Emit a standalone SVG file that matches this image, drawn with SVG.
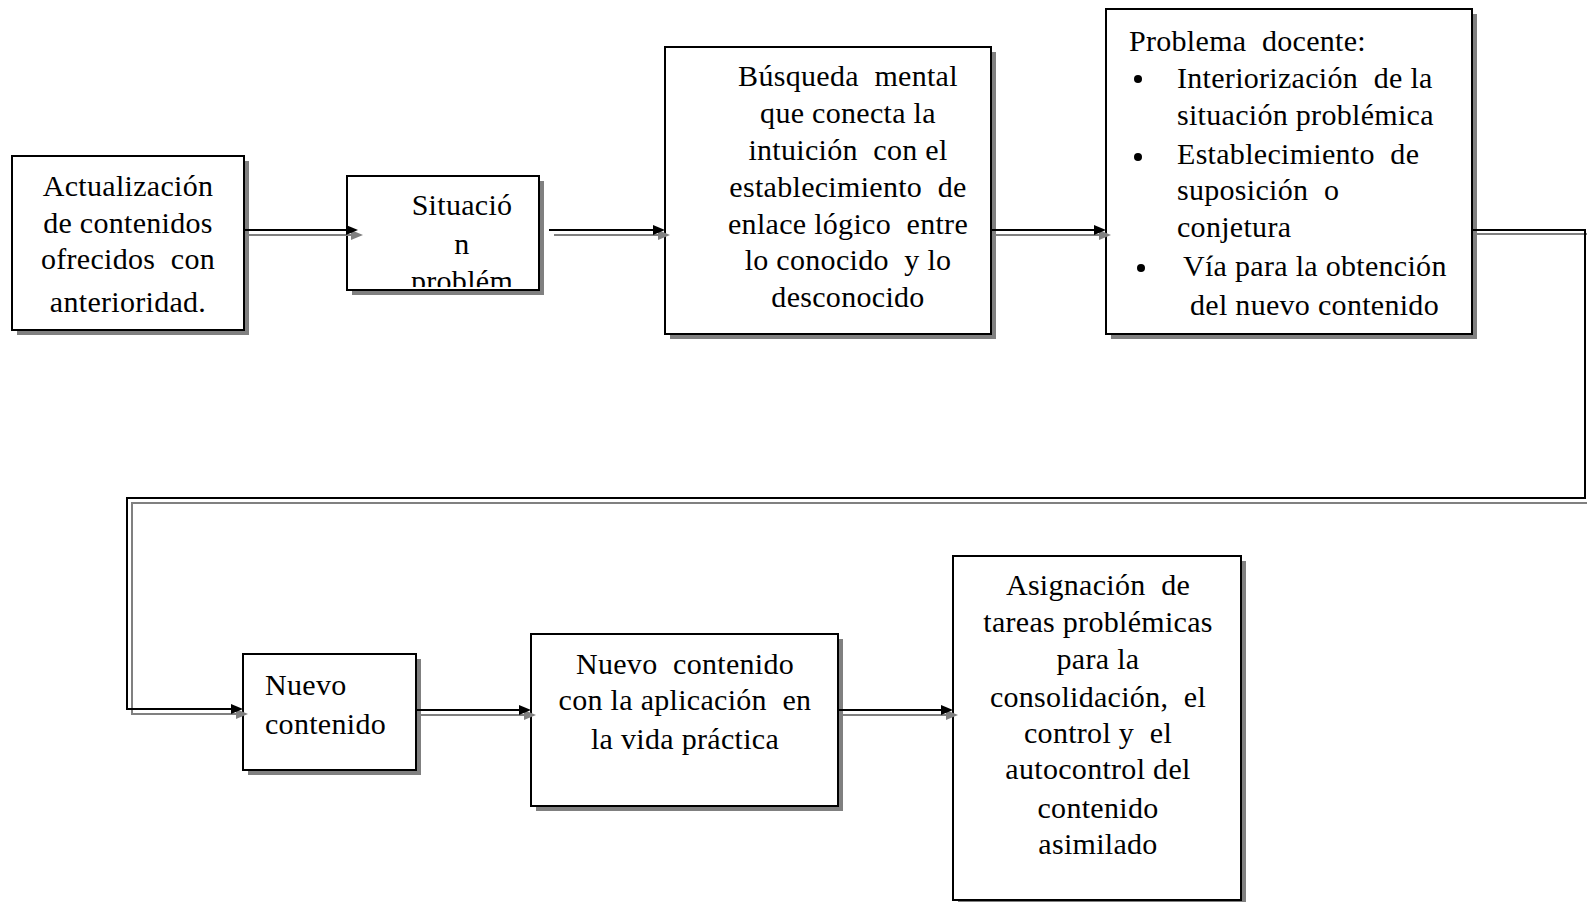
<svg xmlns="http://www.w3.org/2000/svg" width="1587" height="902" viewBox="0 0 1587 902">
<style>
  .box { fill: #ffffff; stroke: #000000; stroke-width: 2; }
  .shadow { fill: #808080; stroke: none; }
  .t { font-family: "Liberation Serif", "Times New Roman", serif; font-size: 30px; letter-spacing: 0.3px; white-space: pre; fill: #000000; }
  .c { text-anchor: middle; }
  .ln { fill: none; stroke: #000000; stroke-width: 2; }
  .lg { fill: none; stroke: #808080; stroke-width: 2; }
</style>
<defs>
  <marker id="ab" markerUnits="userSpaceOnUse" markerWidth="13" markerHeight="11" refX="1" refY="5" orient="auto">
    <path d="M0,0 L12,5 L0,10 Z" fill="#000000"/>
  </marker>
  <marker id="ag" markerUnits="userSpaceOnUse" markerWidth="13" markerHeight="11" refX="1" refY="5" orient="auto">
    <path d="M0,0 L12,5 L0,10 Z" fill="#808080"/>
  </marker>
  <clipPath id="clip2"><rect x="348" y="177" width="190" height="110"/></clipPath>
</defs>

<g id="n1">
  <rect class="shadow" x="17" y="161" width="232" height="174"/>
  <rect class="box" x="12" y="156" width="232" height="174"/>
  <text class="t c" x="128" y="196">Actualización</text>
  <text class="t c" x="128" y="233">de contenidos</text>
  <text class="t c" x="128" y="269">ofrecidos  con</text>
  <text class="t c" x="128" y="312">anterioridad.</text>
</g>

<g id="n2">
  <rect class="shadow" x="352" y="181" width="192" height="114"/>
  <rect class="box" x="347" y="176" width="192" height="114"/>
  <g clip-path="url(#clip2)">
    <text class="t c" x="462" y="215">Situació</text>
    <text class="t c" x="462" y="254">n</text>
    <text class="t c" x="462" y="291">problém</text>
  </g>
</g>

<g id="n3">
  <rect class="shadow" x="670" y="52" width="326" height="287"/>
  <rect class="box" x="665" y="47" width="326" height="287"/>
  <text class="t c" x="848" y="86">Búsqueda  mental</text>
  <text class="t c" x="848" y="123">que conecta la</text>
  <text class="t c" x="848" y="160">intuición  con el</text>
  <text class="t c" x="848" y="197">establecimiento  de</text>
  <text class="t c" x="848" y="234">enlace lógico  entre</text>
  <text class="t c" x="848" y="270">lo conocido  y lo</text>
  <text class="t c" x="848" y="307">desconocido</text>
</g>

<g id="n4">
  <rect class="shadow" x="1111" y="14" width="366" height="325"/>
  <rect class="box" x="1106" y="9" width="366" height="325"/>
  <text class="t" x="1129" y="51">Problema  docente:</text>
  <circle cx="1138" cy="79" r="4"/>
  <text class="t" x="1177" y="88">Interiorización  de la</text>
  <text class="t" x="1177" y="125">situación problémica</text>
  <circle cx="1138" cy="157" r="4"/>
  <text class="t" x="1177" y="164">Establecimiento  de</text>
  <text class="t" x="1177" y="200">suposición  o</text>
  <text class="t" x="1177" y="237">conjetura</text>
  <circle cx="1141" cy="268" r="4"/>
  <text class="t" x="1183" y="276">Vía para la obtención</text>
  <text class="t" x="1190" y="315">del nuevo contenido</text>
</g>

<g id="n5">
  <rect class="shadow" x="248" y="659" width="173" height="116"/>
  <rect class="box" x="243" y="654" width="173" height="116"/>
  <text class="t" x="265" y="695">Nuevo</text>
  <text class="t" x="265" y="734">contenido</text>
</g>

<g id="n6">
  <rect class="shadow" x="536" y="639" width="307" height="172"/>
  <rect class="box" x="531" y="634" width="307" height="172"/>
  <text class="t c" x="685" y="674">Nuevo  contenido</text>
  <text class="t c" x="685" y="710">con la aplicación  en</text>
  <text class="t c" x="685" y="749">la vida práctica</text>
</g>

<g id="n7">
  <rect class="shadow" x="958" y="561" width="288" height="344"/>
  <rect class="box" x="953" y="556" width="288" height="344"/>
  <text class="t c" x="1098" y="595">Asignación  de</text>
  <text class="t c" x="1098" y="632">tareas problémicas</text>
  <text class="t c" x="1098" y="669">para la</text>
  <text class="t c" x="1098" y="707">consolidación,  el</text>
  <text class="t c" x="1098" y="743">control y  el</text>
  <text class="t c" x="1098" y="779">autocontrol del</text>
  <text class="t c" x="1098" y="818">contenido</text>
  <text class="t c" x="1098" y="854">asimilado</text>
</g>

<g id="connectors">
  <g class="shadowlines">
    <path class="lg" d="M249,235 L352,235" marker-end="url(#ag)"/>
    <path class="lg" d="M554,235 L659,235" marker-end="url(#ag)"/>
    <path class="lg" d="M996,235 L1100,235" marker-end="url(#ag)"/>
    <path class="lg" d="M1477,234 L1590,234 L1590,503 L132,503 L132,714 L237,714" marker-end="url(#ag)"/>
    <path class="lg" d="M421,715 L525,715" marker-end="url(#ag)"/>
    <path class="lg" d="M843,715 L947,715" marker-end="url(#ag)"/>
  </g>
  <g class="mainlines">
    <path class="ln" d="M244,230 L347,230" marker-end="url(#ab)"/>
    <path class="ln" d="M549,230 L654,230" marker-end="url(#ab)"/>
    <path class="ln" d="M991,230 L1095,230" marker-end="url(#ab)"/>
    <path class="ln" d="M1472,230 L1585,230 L1585,498 L127,498 L127,709 L232,709" marker-end="url(#ab)"/>
    <path class="ln" d="M416,710 L520,710" marker-end="url(#ab)"/>
    <path class="ln" d="M838,710 L942,710" marker-end="url(#ab)"/>
  </g>
</g>
</svg>
